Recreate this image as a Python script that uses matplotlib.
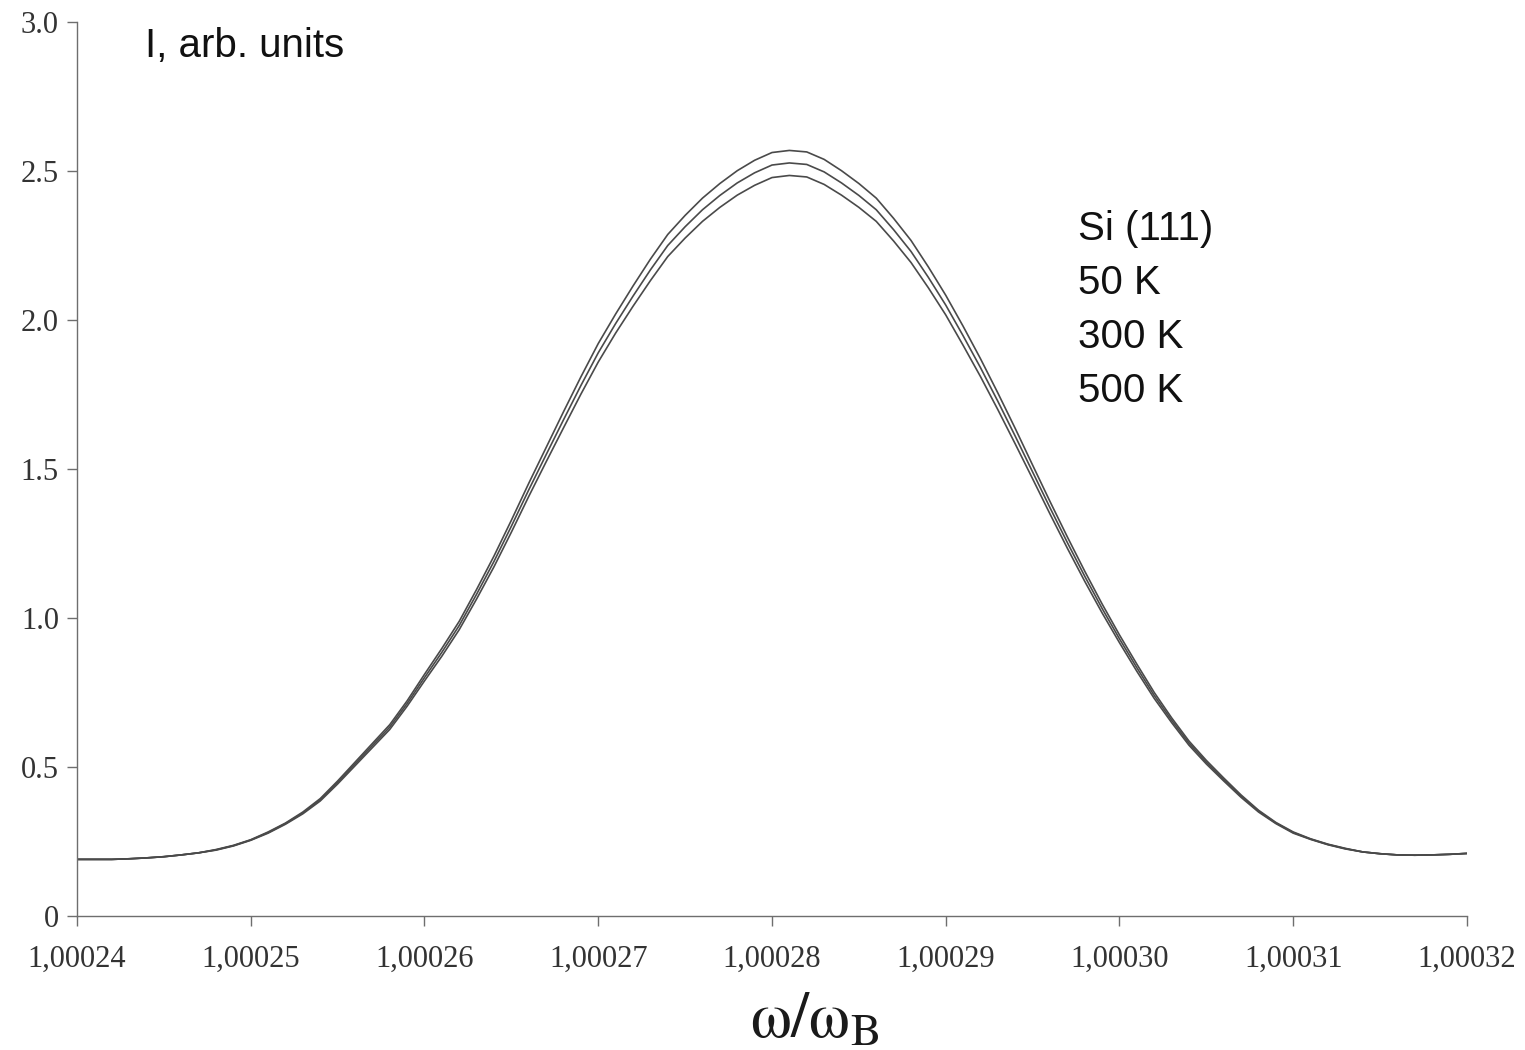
import matplotlib
matplotlib.use("Agg")
import matplotlib.pyplot as plt

# omega / omega_B grid
omega_ratio = [
    1.000240, 1.000241, 1.000242, 1.000243, 1.000244, 1.000245, 1.000246, 1.000247, 1.000248, 1.000249,
    1.000250, 1.000251, 1.000252, 1.000253, 1.000254, 1.000255, 1.000256, 1.000257, 1.000258, 1.000259,
    1.000260, 1.000261, 1.000262, 1.000263, 1.000264, 1.000265, 1.000266, 1.000267, 1.000268, 1.000269,
    1.000270, 1.000271, 1.000272, 1.000273, 1.000274, 1.000275, 1.000276, 1.000277, 1.000278, 1.000279,
    1.000280, 1.000281, 1.000282, 1.000283, 1.000284, 1.000285, 1.000286, 1.000287, 1.000288, 1.000289,
    1.000290, 1.000291, 1.000292, 1.000293, 1.000294, 1.000295, 1.000296, 1.000297, 1.000298, 1.000299,
    1.000300, 1.000301, 1.000302, 1.000303, 1.000304, 1.000305, 1.000306, 1.000307, 1.000308, 1.000309,
    1.000310, 1.000311, 1.000312, 1.000313, 1.000314, 1.000315, 1.000316, 1.000317, 1.000318, 1.000319,
    1.000320,
]

intensity_50k = [
    0.190, 0.190, 0.190, 0.192, 0.195, 0.199, 0.205, 0.212, 0.223, 0.237,
    0.256, 0.282, 0.312, 0.349, 0.394, 0.453, 0.516, 0.579, 0.642, 0.722,
    0.811, 0.898, 0.989, 1.096, 1.208, 1.328, 1.452, 1.572, 1.692, 1.809,
    1.921, 2.020, 2.114, 2.204, 2.287, 2.351, 2.409, 2.458, 2.501, 2.536,
    2.562, 2.569, 2.564, 2.539, 2.501, 2.458, 2.409, 2.341, 2.267, 2.178,
    2.083, 1.979, 1.870, 1.755, 1.636, 1.513, 1.391, 1.272, 1.157, 1.047,
    0.943, 0.845, 0.750, 0.665, 0.587, 0.522, 0.463, 0.406, 0.355, 0.314,
    0.282, 0.259, 0.241, 0.227, 0.215, 0.209, 0.205, 0.204, 0.205, 0.207,
    0.210,
]

intensity_300k = [
    0.190, 0.190, 0.190, 0.192, 0.195, 0.199, 0.205, 0.212, 0.222, 0.236,
    0.255, 0.280, 0.310, 0.346, 0.390, 0.448, 0.510, 0.572, 0.634, 0.713,
    0.800, 0.885, 0.975, 1.080, 1.190, 1.308, 1.430, 1.548, 1.665, 1.780,
    1.890, 1.988, 2.080, 2.168, 2.250, 2.313, 2.370, 2.418, 2.460, 2.494,
    2.520, 2.527, 2.522, 2.497, 2.460, 2.418, 2.370, 2.303, 2.230, 2.143,
    2.050, 1.947, 1.840, 1.727, 1.610, 1.490, 1.370, 1.253, 1.140, 1.032,
    0.930, 0.833, 0.740, 0.657, 0.580, 0.516, 0.458, 0.402, 0.352, 0.312,
    0.280, 0.258, 0.240, 0.226, 0.215, 0.209, 0.205, 0.204, 0.205, 0.207,
    0.210,
]

intensity_500k = [
    0.190, 0.190, 0.190, 0.192, 0.195, 0.199, 0.205, 0.212, 0.221, 0.235,
    0.254, 0.278, 0.308, 0.343, 0.386, 0.443, 0.504, 0.565, 0.626, 0.704,
    0.789, 0.872, 0.961, 1.064, 1.172, 1.288, 1.408, 1.524, 1.638, 1.751,
    1.859, 1.956, 2.046, 2.132, 2.213, 2.275, 2.331, 2.378, 2.419, 2.452,
    2.478, 2.485, 2.480, 2.455, 2.419, 2.378, 2.331, 2.265, 2.193, 2.108,
    2.017, 1.915, 1.810, 1.699, 1.584, 1.467, 1.349, 1.234, 1.123, 1.017,
    0.917, 0.821, 0.730, 0.649, 0.573, 0.510, 0.453, 0.398, 0.349, 0.310,
    0.278, 0.257, 0.239, 0.225, 0.215, 0.209, 0.205, 0.204, 0.205, 0.207,
    0.210,
]

x_ticks = [1.00024, 1.00025, 1.00026, 1.00027, 1.00028, 1.00029, 1.00030, 1.00031, 1.00032]
x_tick_labels = ["1,00024", "1,00025", "1,00026", "1,00027", "1,00028",
                 "1,00029", "1,00030", "1,00031", "1,00032"]
y_ticks = [0, 0.5, 1.0, 1.5, 2.0, 2.5, 3.0]
y_tick_labels = ["0", "0.5", "1.0", "1.5", "2.0", "2.5", "3.0"]

legend_lines = ["Si (111)", "50 K", "300 K", "500 K"]

# figure size in pixels and axes box edges (pixels from top-left)
FIG_W, FIG_H = 1525, 1050
AX_LEFT, AX_RIGHT, AX_TOP, AX_BOTTOM = 77, 1467, 22, 916


def px_to_axes(x_px, y_px):
    return ((x_px - AX_LEFT) / (AX_RIGHT - AX_LEFT),
            (AX_BOTTOM - y_px) / (AX_BOTTOM - AX_TOP))


def draw_rocking_curves():
    plt.rcParams["mathtext.fontset"] = "stix"

    fig = plt.figure(figsize=(FIG_W / 100, FIG_H / 100), dpi=100)
    ax = fig.add_axes([AX_LEFT / FIG_W, 1 - AX_BOTTOM / FIG_H,
                       (AX_RIGHT - AX_LEFT) / FIG_W, (AX_BOTTOM - AX_TOP) / FIG_H])

    for curve in (intensity_50k, intensity_300k, intensity_500k):
        ax.plot(omega_ratio, curve, color="#4a4a4a", linewidth=1.2, solid_joinstyle="round")

    ax.set_xlim(x_ticks[0], x_ticks[-1])
    ax.set_ylim(0, 3.0)

    ax.spines["top"].set_visible(False)
    ax.spines["right"].set_visible(False)
    for side in ("left", "bottom"):
        ax.spines[side].set_color("#6e6e6e")
        ax.spines[side].set_linewidth(1.0)

    ax.set_xticks(x_ticks)
    ax.set_xticklabels(x_tick_labels, family="Liberation Serif", fontsize=22, color="#333333")
    ax.set_yticks(y_ticks)
    ax.set_yticklabels(y_tick_labels, family="Liberation Serif", fontsize=22, color="#333333")
    ax.tick_params(axis="both", direction="out", length=7, width=1.0, color="#6e6e6e")
    ax.tick_params(axis="x", pad=14)
    ax.tick_params(axis="y", pad=6)

    ax.set_xlabel(r"$\mathrm{\omega}/\mathrm{\omega}_\mathrm{B}$", fontsize=47, color="#1a1a1a")
    ax.xaxis.set_label_coords(0.531, -0.08)

    x0, y0 = px_to_axes(145, 57)
    ax.text(x0, y0, "I, arb. units", transform=ax.transAxes, family="Liberation Sans",
            fontsize=29, color="#111111", va="baseline", ha="left")

    for line_text, baseline_px in zip(legend_lines, (240, 294, 348, 402)):
        lx, ly = px_to_axes(1078, baseline_px)
        ax.text(lx, ly, line_text, transform=ax.transAxes, family="Liberation Sans",
                fontsize=29, color="#111111", va="baseline", ha="left")

    fig.savefig("out.png", dpi=100, facecolor="white")


if __name__ == "__main__":
    draw_rocking_curves()
